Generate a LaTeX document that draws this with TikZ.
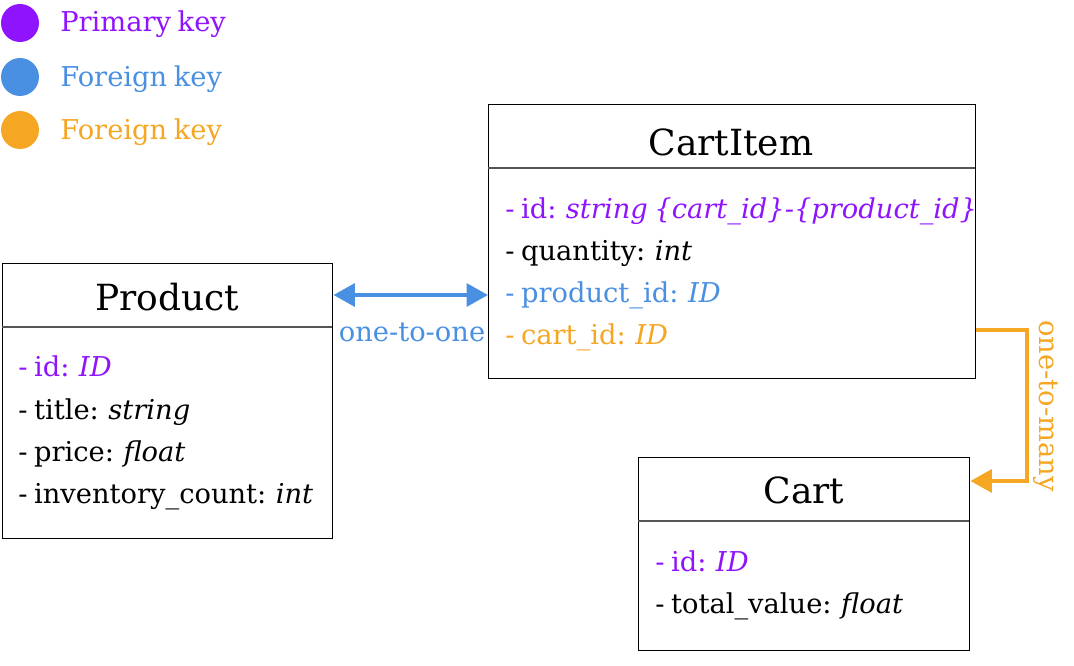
\documentclass[tikz,border=0pt]{standalone}
\usepackage{fontspec}
\setmainfont{DejaVu Serif}
\usetikzlibrary{arrows.meta,calc}
\definecolor{pk}{HTML}{9013FE}
\definecolor{fkb}{HTML}{4A90E2}
\definecolor{fko}{HTML}{F5A623}
\definecolor{sep}{HTML}{555555}
\newcommand{\tightsp}{\spaceskip=0.24em plus 0.05em\relax}
\tikzset{
  box/.style={draw=black, line width=1.1pt, anchor=north west, inner sep=0pt},
  sepline/.style={draw=sep, line width=0.8pt},
  ttl/.style={anchor=base, inner sep=0pt, font=\fontsize{27}{30}\selectfont},
  fld/.style={anchor=base west, inner sep=0pt, font=\fontsize{20.5}{24}\selectfont\tightsp},
  dot/.style={circle, minimum size=28.5pt, inner sep=0pt},
  lbl/.style={anchor=base west, inner sep=0pt, font=\fontsize{20.5}{24}\selectfont\tightsp},
  tip/.style={Triangle[length=16pt,width=17pt]},
  conn/.style={line width=3pt, -{Triangle[length=16pt,width=17pt]}},
}
\begin{document}
\begin{tikzpicture}[x=0.75pt,y=-0.75pt]
\useasboundingbox (0,0) rectangle (1074,666);
% legend
\node[dot, fill=pk] (d1) at (20,23) {};
\node[dot, fill=fkb] (d2) at (20,77) {};
\node[dot, fill=fko] (d3) at (20,130) {};
\node[lbl, text=pk] (l1) at (60,32) {Primary key};
\node[lbl, text=fkb] (l2) at (60,87) {Foreign key};
\node[lbl, text=fko] (l3) at (60,140) {Foreign key};
% Product
\node[box, minimum width={330*0.75pt}, minimum height={275*0.75pt}] (product) at (2,263) {};
\draw[sepline] (2,327) -- (332,327);
\node[ttl] (pt) at (167,311) {Product};
\node[fld, text=pk] (p1) at (18,377) {- id: \textit{ID}};
\node[fld] (p2) at (18,419) {- title: \textit{string}};
\node[fld] (p3) at (18,461) {- price: \textit{float}};
\node[fld] (p4) at (18,503) {- inventory\_count: \textit{int}};
% CartItem
\node[box, minimum width={487*0.75pt}, minimum height={274*0.75pt}] (cartitem) at (488,104) {};
\draw[sepline] (488,168) -- (975,168);
\node[ttl] (ct) at (731,156) {CartItem};
\node[fld, text=pk] (c1) at (505,219) {- id: \textit{string \{cart\_id\}-\{product\_id\}}};
\node[fld] (c2) at (505,261) {- quantity: \textit{int}};
\node[fld, text=fkb] (c3) at (505,303) {- product\_id: \textit{ID}};
\node[fld, text=fko] (c4) at (505,345) {- cart\_id: \textit{ID}};
% Cart
\node[box, minimum width={331*0.75pt}, minimum height={193*0.75pt}] (cart) at (638,457) {};
\draw[sepline] (638,521) -- (969,521);
\node[ttl] (kt) at (804,503) {Cart};
\node[fld, text=pk] (k1) at (655,571) {- id: \textit{ID}};
\node[fld] (k2) at (655,613) {- total\_value: \textit{float}};
% connectors
\coordinate (a1) at (product.north east |- 0,295);
\coordinate (a2) at (cartitem.west |- 0,295);
\draw[line width=3pt, draw=fkb, {Triangle[length=16pt,width=17pt]}-{Triangle[length=16pt,width=17pt]}] (a1) -- (a2);
\node[lbl, anchor=base, text=fkb] (o1) at (412,342) {one-to-one};
\coordinate (b1) at (cartitem.east |- 0,330);
\coordinate (b2) at (cart.east |- 0,481);
\draw[conn, draw=fko] (b1) -- (1027,330) -- (1027,481) -- (b2);
\node[lbl, anchor=center, rotate=-90, text=fko] (o2) at (1046,406) {one-to-many};
\end{tikzpicture}
\end{document}
